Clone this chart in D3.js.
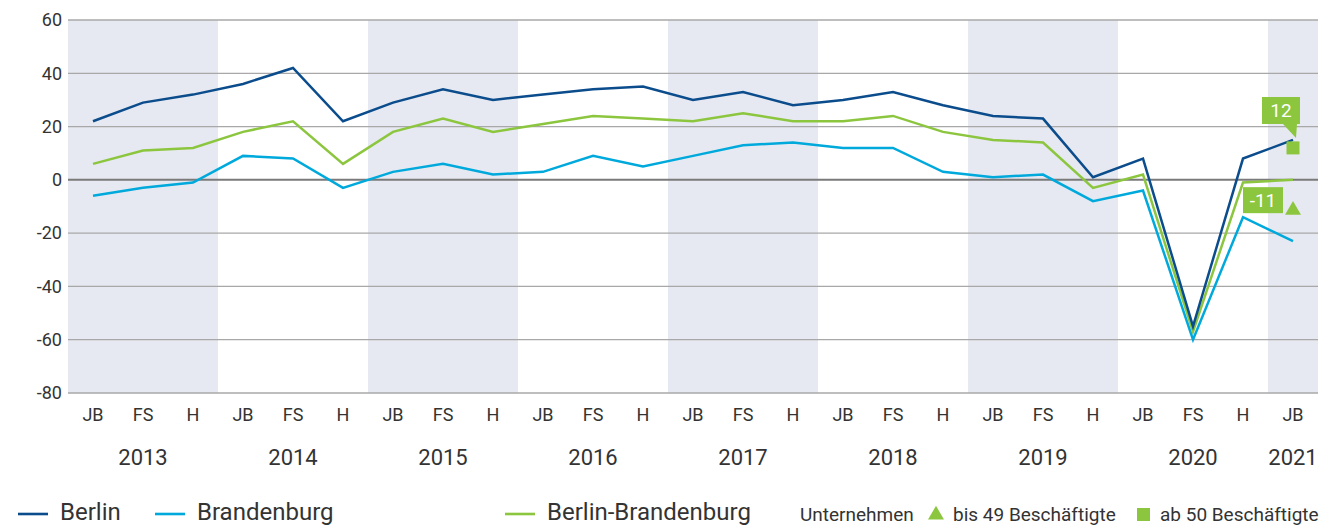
<!DOCTYPE html>
<html>
<head>
<meta charset="utf-8">
<script src="https://cdn.jsdelivr.net/npm/d3@7"></script>
<style>
  body { margin: 0; background: #fff; }
  text { font-family: Roboto, "Open Sans", sans-serif; fill: #333; }
</style>
</head>
<body>
<div id="chart"></div>
<script>
var years = ["2013", "2014", "2015", "2016", "2017", "2018", "2019", "2020", "2021"];
var periods = ["JB", "FS", "H"];
var yTicks = [60, 40, 20, 0, -20, -40, -60, -80];

var berlin      = [22, 29, 32, 36, 42, 22, 29, 34, 30, 32, 34, 35, 30, 33, 28, 30, 33, 28, 24, 23, 1, 8, -55, 8, 15];
var brandenburg = [-6, -3, -1, 9, 8, -3, 3, 6, 2, 3, 9, 5, 9, 13, 14, 12, 12, 3, 1, 2, -8, -4, -60, -14, -23];
var berlinBrb   = [6, 11, 12, 18, 22, 6, 18, 23, 18, 21, 24, 23, 22, 25, 22, 22, 24, 18, 15, 14, -3, 2, -57, -1, 0];

// Unternehmen nach Größe, letzter Zeitpunkt
var bigFirms = 12;    // ab 50 Beschäftigte
var smallFirms = -11; // bis 49 Beschäftigte

var colors = {berlin: "#0b4c8c", brandenburg: "#00a9dc", bb: "#8cc63f", band: "#e6e9f1"};

// build list of time points (year + period) up to 2021 JB
var points = [];
years.forEach(function(y) {
    periods.forEach(function(p) {
        if (points.length < berlin.length) points.push({year: y, period: p});
    });
});

var width = 1319, height = 526;
var margin = {top: 20, left: 68, right: 1};
var plotBottom = 393;

var svg = d3.select("#chart").append("svg")
    .attr("width", width).attr("height", height);

var x = d3.scaleBand().domain(d3.range(points.length))
    .range([margin.left, width - margin.right]).padding(0);
var cx = function(i) { return x(i) + x.bandwidth() / 2; };
var y = d3.scaleLinear().domain([-80, 60]).range([plotBottom, margin.top]);

// shaded years
years.forEach(function(yr, k) {
    if (k % 2 == 1) return;
    var idx = points.map((p, i) => p.year == yr ? i : -1).filter(i => i >= 0);
    var x0 = x(idx[0]), x1 = x(idx[idx.length - 1]) + x.bandwidth();
    svg.append("rect")
        .attr("x", x0).attr("y", y(60))
        .attr("width", x1 - x0).attr("height", y(-80) - y(60))
        .attr("fill", colors.band);
});

// grid lines
svg.append("g").selectAll("line").data(yTicks).enter().append("line")
    .attr("x1", margin.left).attr("x2", width - margin.right)
    .attr("y1", d => y(d)).attr("y2", d => y(d))
    .attr("stroke", d => d == 0 ? "#7a7a7a" : "#a8a8a8")
    .attr("stroke-width", d => d == 0 ? 2 : 1.3);

// y axis labels
var yAxis = svg.append("g").attr("transform", "translate(" + (margin.left - 6) + ",0)")
    .call(d3.axisLeft(y).tickValues(yTicks).tickSize(0).tickPadding(0).tickFormat(d => d < 0 ? "-" + Math.abs(d) : d));
yAxis.select(".domain").remove();
yAxis.selectAll("text").style("font-size", "18px").style("font-family", "Roboto, sans-serif").attr("fill", "#333");

// x axis: periods and years
var xAxis = svg.append("g").attr("transform", "translate(0," + plotBottom + ")")
    .call(d3.axisBottom(x).tickSize(0).tickPadding(0).tickFormat(i => points[i].period));
xAxis.select(".domain").remove();
xAxis.selectAll("text").attr("y", 28).attr("dy", 0)
    .style("font-size", "18px").style("font-family", "Roboto, sans-serif").attr("fill", "#333");

years.forEach(function(yr) {
    var idx = points.map((p, i) => p.year == yr ? i : -1).filter(i => i >= 0);
    var mid = yr == "2021" ? cx(idx[0]) : cx(idx[1]);
    svg.append("text").attr("x", mid).attr("y", 465)
        .attr("text-anchor", "middle").style("font-size", "22px").text(yr);
});

// lines
var line = d3.line().x((d, i) => cx(i)).y(d => y(d));
[[berlinBrb, colors.bb], [brandenburg, colors.brandenburg], [berlin, colors.berlin]].forEach(function(s) {
    svg.append("path").datum(s[0]).attr("d", line)
        .attr("fill", "none").attr("stroke", s[1]).attr("stroke-width", 2.5)
        .attr("stroke-linejoin", "miter");
});

// firm size markers at last point
var last = points.length - 1;
var px = cx(last);
svg.append("rect").attr("x", px - 6.5).attr("y", y(bigFirms) - 6.5)
    .attr("width", 13).attr("height", 13).attr("fill", colors.bb);
svg.append("path").attr("d", d3.symbol().type(d3.symbolTriangle).size(110)())
    .attr("transform", "translate(" + px + "," + (y(smallFirms) + 1) + ")")
    .attr("fill", colors.bb);

// callouts
var by = y(bigFirms) - 51;
svg.append("path")
    .attr("d", "M" + (px - 31) + "," + by + "h38v27h-3l-1,14l-13,-14h-21z")
    .attr("fill", colors.bb);
svg.append("text").attr("x", px - 12).attr("y", by + 20).attr("text-anchor", "middle")
    .style("font-size", "19px").style("fill", "#fff").text(bigFirms);

var sy = y(smallFirms) - 22;
svg.append("rect").attr("x", px - 50).attr("y", sy).attr("width", 40).attr("height", 26)
    .attr("fill", colors.bb);
svg.append("text").attr("x", px - 30).attr("y", sy + 20).attr("text-anchor", "middle")
    .style("font-size", "19px").style("fill", "#fff").text(smallFirms);

// legend
var legY = 514;
var legend = [
    {label: "Berlin", color: colors.berlin, x: 18},
    {label: "Brandenburg", color: colors.brandenburg, x: 155},
    {label: "Berlin-Brandenburg", color: colors.bb, x: 505}
];
legend.forEach(function(l) {
    svg.append("line").attr("x1", l.x).attr("x2", l.x + 30).attr("y1", legY).attr("y2", legY)
        .attr("stroke", l.color).attr("stroke-width", 2.6);
    svg.append("text").attr("x", l.x + 42).attr("y", legY + 6).style("font-size", "24px").text(l.label);
});
svg.append("text").attr("x", 800).attr("y", legY + 7).style("font-size", "19px").text("Unternehmen");
svg.append("path").attr("d", d3.symbol().type(d3.symbolTriangle).size(110)())
    .attr("transform", "translate(936," + (legY + 1) + ")").attr("fill", colors.bb);
svg.append("text").attr("x", 953).attr("y", legY + 7).style("font-size", "19px").text("bis 49 Beschäftigte");
svg.append("rect").attr("x", 1137).attr("y", legY - 6).attr("width", 13).attr("height", 13).attr("fill", colors.bb);
svg.append("text").attr("x", 1160).attr("y", legY + 7).style("font-size", "19px").text("ab 50 Beschäftigte");
</script>
</body>
</html>
